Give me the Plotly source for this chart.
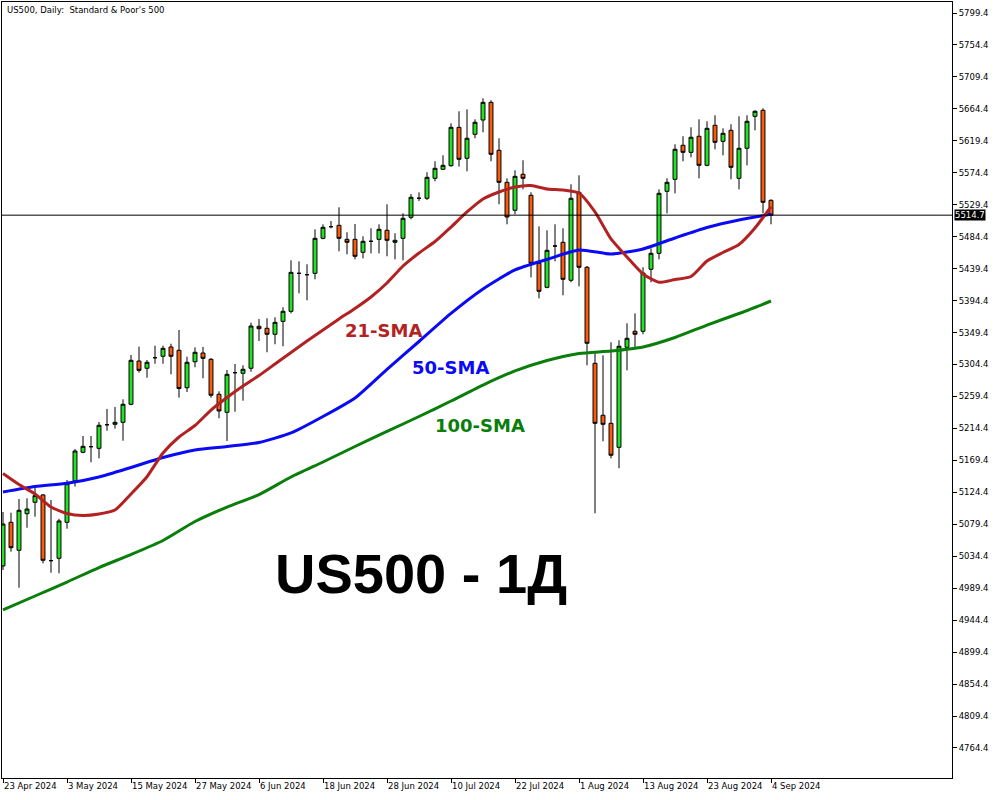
import pandas as pd
import plotly.graph_objects as go

# ---------------- data ----------------
dates = [d.strftime("%Y-%m-%d") for d in pd.bdate_range("2024-04-23", "2024-09-04")]

open_ = [5020.7, 5082.2, 5042.8, 5094.3, 5110.4, 5120.7, 5028.2, 5031.5, 5082.2, 5140.4,
         5180.8, 5188.7, 5186.4, 5219.6, 5220.2, 5223.0, 5248.4, 5309.3, 5299.1, 5314.0,
         5316.0, 5329.1, 5324.4, 5271.7, 5308.3, 5320.6, 5311.7, 5262.5, 5237.1, 5292.9,
         5292.0, 5299.1, 5358.2, 5355.4, 5347.0, 5365.2, 5379.3, 5432.8, 5430.9, 5432.8,
         5482.1, 5498.5, 5500.4, 5480.7, 5480.7, 5462.4, 5477.9, 5480.7, 5493.4, 5476.5,
         5482.1, 5511.7, 5538.5, 5538.5, 5566.6, 5579.3, 5584.4, 5638.4, 5594.8, 5628.6,
         5648.7, 5673.6, 5606.1, 5561.0, 5521.6, 5572.3, 5542.7, 5446.9, 5413.1, 5471.3,
         5476.5, 5423.0, 5546.9, 5441.3, 5306.1, 5232.9, 5221.6, 5187.8, 5328.6, 5351.2,
         5351.2, 5438.5, 5461.0, 5548.3, 5565.2, 5613.1, 5603.2, 5625.8, 5584.9, 5641.3,
         5618.7, 5634.2, 5566.6, 5608.9, 5653.9, 5662.4, 5535.6]
high = [5096.7, 5095.7, 5115.0, 5116.0, 5130.5, 5122.1, 5113.6, 5087.2, 5141.8, 5185.4,
        5203.7, 5203.7, 5223.4, 5241.8, 5244.6, 5255.4, 5317.8, 5329.5, 5310.8, 5330.9,
        5330.9, 5333.7, 5353.0, 5315.4, 5328.6, 5329.1, 5313.6, 5266.7, 5296.7, 5305.1,
        5303.3, 5363.3, 5368.5, 5369.5, 5370.9, 5385.0, 5451.1, 5449.7, 5445.5, 5494.8,
        5501.8, 5506.5, 5525.8, 5490.6, 5502.3, 5484.9, 5496.2, 5501.8, 5530.0, 5489.2,
        5517.3, 5544.5, 5546.9, 5575.1, 5590.6, 5599.0, 5644.1, 5661.0, 5663.8, 5649.7,
        5679.3, 5676.5, 5623.0, 5566.6, 5577.9, 5592.0, 5546.9, 5499.0, 5493.4, 5501.8,
        5496.2, 5558.2, 5570.8, 5443.1, 5320.2, 5317.4, 5335.7, 5338.5, 5362.4, 5376.5,
        5441.3, 5468.0, 5551.1, 5566.6, 5614.5, 5625.8, 5638.4, 5649.7, 5646.9, 5655.3,
        5637.0, 5642.7, 5653.9, 5655.3, 5662.4, 5665.2, 5537.1]
low = [5015.0, 5040.8, 4990.1, 5074.6, 5090.1, 5024.5, 5011.2, 5010.4, 5073.2, 5132.4,
       5179.4, 5166.7, 5172.3, 5211.2, 5214.0, 5197.1, 5247.0, 5292.9, 5285.8, 5305.5,
       5305.5, 5290.6, 5257.7, 5265.7, 5300.5, 5285.0, 5257.7, 5228.7, 5196.7, 5238.0,
       5253.4, 5294.3, 5337.5, 5321.6, 5332.9, 5330.1, 5376.5, 5404.7, 5394.8, 5424.4,
       5480.7, 5496.2, 5463.8, 5459.6, 5452.6, 5453.9, 5461.0, 5461.0, 5456.8, 5452.6,
       5451.1, 5508.9, 5534.7, 5536.1, 5562.4, 5579.3, 5583.0, 5583.0, 5576.5, 5623.0,
       5631.4, 5590.6, 5530.0, 5501.8, 5515.9, 5551.1, 5427.2, 5397.6, 5411.7, 5449.7,
       5401.9, 5420.2, 5414.5, 5303.3, 5094.9, 5196.3, 5172.3, 5158.3, 5296.2, 5327.2,
       5347.0, 5420.2, 5452.6, 5517.3, 5545.5, 5590.6, 5596.2, 5566.6, 5583.5, 5607.5,
       5599.0, 5565.2, 5551.1, 5584.9, 5634.2, 5517.3, 5501.8]
close = [5079.8, 5046.4, 5099.1, 5100.9, 5119.7, 5028.7, 5028.2, 5084.1, 5136.6, 5182.6,
         5189.2, 5188.7, 5218.8, 5219.6, 5223.0, 5248.4, 5310.3, 5296.2, 5307.5, 5314.0,
         5327.2, 5316.0, 5270.6, 5307.5, 5321.6, 5313.1, 5261.1, 5239.0, 5290.6, 5292.9,
         5297.7, 5358.6, 5354.8, 5347.0, 5363.8, 5379.3, 5434.2, 5432.8, 5430.9, 5482.1,
         5497.6, 5498.5, 5482.1, 5476.5, 5456.8, 5477.9, 5477.9, 5494.8, 5479.3, 5479.3,
         5510.3, 5539.9, 5538.5, 5568.0, 5580.7, 5584.9, 5638.4, 5593.4, 5623.0, 5645.5,
         5673.6, 5600.4, 5561.0, 5512.1, 5569.4, 5566.6, 5446.9, 5407.5, 5465.2, 5471.3,
         5424.4, 5538.5, 5441.3, 5334.3, 5221.6, 5220.2, 5176.6, 5330.1, 5341.3, 5347.0,
         5433.3, 5461.0, 5545.5, 5561.0, 5607.5, 5603.2, 5624.4, 5584.9, 5637.0, 5617.3,
         5630.0, 5582.1, 5608.9, 5646.9, 5661.0, 5532.8, 5514.7]

# moving averages (21-SMA every 2nd bar, 50/100-SMA every 4th bar)
sma21_dates = dates[::2]
sma21 = [5150.9, 5135.4, 5122.1, 5103.8, 5094.6, 5091.8, 5093.9, 5099.5, 5122.1, 5146.4,
         5179.8, 5202.3, 5218.5, 5240.3, 5258.0, 5274.1, 5288.9, 5305.1, 5321.3, 5337.5,
         5353.0, 5368.5, 5383.3, 5399.5, 5419.2, 5443.1, 5461.4, 5477.6, 5498.0, 5519.2,
         5537.5, 5547.3, 5554.4, 5556.5, 5551.5, 5550.1, 5545.9, 5519.2, 5481.2, 5455.8,
         5431.9, 5420.2, 5424.1, 5428.3, 5450.2, 5462.1, 5473.4, 5496.6, 5526.9]
sma50_dates = dates[::4]
sma50 = [5124.9, 5132.6, 5137.1, 5146.0, 5159.4, 5173.5, 5184.1, 5189.0, 5194.6, 5208.0,
         5231.2, 5257.3, 5297.6, 5336.8, 5376.3, 5410.7, 5437.5, 5452.3, 5465.7, 5460.0,
         5467.1, 5482.6, 5497.3, 5507.9, 5515.9]
sma100_dates = dates[::4]
sma100 = [4958.7, 4978.4, 4998.1, 5018.5, 5036.8, 5056.6, 5083.3, 5103.7, 5121.3, 5146.0,
          5167.1, 5188.9, 5210.1, 5231.2, 5253.0, 5275.5, 5295.3, 5310.0, 5319.9, 5323.4,
          5329.1, 5342.4, 5360.0, 5376.2, 5393.8]

tick_dates = ["2024-04-23", "2024-05-03", "2024-05-15", "2024-05-27", "2024-06-06",
              "2024-06-18", "2024-06-28", "2024-07-10", "2024-07-22", "2024-08-01",
              "2024-08-13", "2024-08-23", "2024-09-04"]
tick_labels = ["23 Apr 2024", "3 May 2024", "15 May 2024", "27 May 2024", "6 Jun 2024",
               "18 Jun 2024", "28 Jun 2024", "10 Jul 2024", "22 Jul 2024", "1 Aug 2024",
               "13 Aug 2024", "23 Aug 2024", "4 Sep 2024"]
last_price = 5514.7

# ---------------- figure ----------------
fig = go.Figure()
fig.add_trace(go.Candlestick(
    x=dates, open=open_, high=high, low=low, close=close,
    increasing=dict(line=dict(color="black", width=1), fillcolor="#22E422"),
    decreasing=dict(line=dict(color="black", width=1), fillcolor="#FF5A0A"),
    whiskerwidth=0, hoverinfo="skip", showlegend=False))

fig.add_trace(go.Scatter(x=sma100_dates, y=sma100, mode="lines", line=dict(color="#0A7E0A", width=3, shape="spline", smoothing=0.6), showlegend=False, hoverinfo="skip"))
fig.add_trace(go.Scatter(x=sma50_dates, y=sma50, mode="lines", line=dict(color="#0A0AF5", width=3, shape="spline", smoothing=0.6), showlegend=False, hoverinfo="skip"))
fig.add_trace(go.Scatter(x=sma21_dates, y=sma21, mode="lines", line=dict(color="#B22222", width=3, shape="spline", smoothing=0.6), showlegend=False, hoverinfo="skip"))

fig.add_shape(type="line", xref="paper", x0=0, x1=1, yref="y", y0=last_price, y1=last_price,
              line=dict(color="black", width=1))

tick_font = dict(family="DejaVu Sans", size=8.5, color="black")

fig.update_layout(
    width=1000, height=800,
    margin=dict(l=2, r=48, t=2, b=22, autoexpand=False),
    paper_bgcolor="white", plot_bgcolor="white",
    xaxis=dict(type="category", categoryorder="array", categoryarray=dates,
               range=[-0.125, 118.625], rangeslider=dict(visible=False),
               tickmode="array", tickvals=tick_dates, ticktext=tick_labels,
               ticks="outside", ticklen=4, tickcolor="black", tickwidth=1,
               ticklabelposition="outside right", tickangle=0, automargin=False,
               showgrid=False, zeroline=False, showline=True, linecolor="black",
               linewidth=1, mirror=True, tickfont=tick_font),
    yaxis=dict(side="right", range=[4722.1, 5814.9], tick0=4764.4, dtick=45,
               tickformat=".1f", ticks="outside", ticklen=4, tickcolor="black",
               automargin=False,
               showgrid=False, zeroline=False, showline=True, linecolor="black",
               linewidth=1, mirror=True, tickfont=tick_font),
)

annotations = [
    dict(text="US500, Daily:  Standard & Poor's 500", xref="paper", yref="paper",
         x=0.003, y=0.999, xanchor="left", yanchor="top", showarrow=False,
         font=dict(family="DejaVu Sans", size=8.5, color="black")),
    dict(text="21-SMA", x=47.6, y=5351.6, xref="x", yref="y", showarrow=False,
         font=dict(family="DejaVu Sans", size=18, color="#B22222", weight="bold")),
    dict(text="50-SMA", x=55.9, y=5299.5, xref="x", yref="y", showarrow=False,
         font=dict(family="DejaVu Sans", size=18, color="#0A0AF5", weight="bold")),
    dict(text="100-SMA", x=59.6, y=5217.9, xref="x", yref="y", showarrow=False,
         font=dict(family="DejaVu Sans", size=18, color="#0A7E0A", weight="bold")),
    dict(text="US500 - 1Д", x=52.3, y=5010.0, xref="x", yref="y", showarrow=False,
         font=dict(family="Liberation Sans", size=56, color="black", weight="bold")),
    dict(text=str(last_price), xref="paper", yref="y", x=1.0, y=last_price,
         xanchor="left", yanchor="middle", xshift=2, showarrow=False,
         bgcolor="black", borderpad=0,
         font=dict(family="DejaVu Sans", size=8.5, color="white")),
]
fig.update_layout(annotations=annotations)

fig.write_html("out.html", config={"displayModeBar": False},
               post_script="document.body.style.margin='0px';")
